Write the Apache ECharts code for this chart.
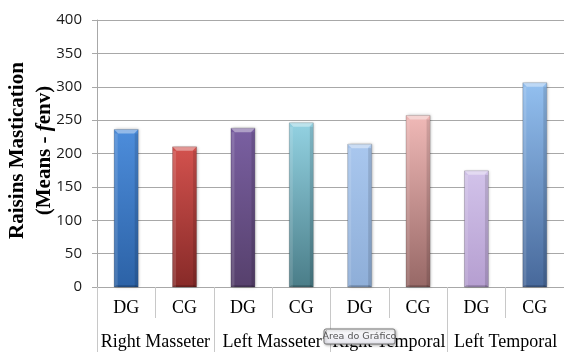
<!DOCTYPE html>
<html>
<head>
<meta charset="utf-8">
<script src="https://cdn.jsdelivr.net/npm/echarts@6/dist/echarts.min.js"></script>
<style>
  html, body { margin: 0; padding: 0; background: #ffffff; }
  #chart { width: 564px; height: 352px; }
</style>
</head>
<body>
<div id="chart"></div>
<script>
// Mean raisin-mastication activity per muscle, DG vs CG
const groupLabels = ['DG', 'CG', 'DG', 'CG', 'DG', 'CG', 'DG', 'CG'];
const muscles = ['Right Masseter', 'Left Masseter', 'Right Temporal', 'Left Temporal'];
const meanValues = [236, 210, 238, 246, 214, 257, 174, 306];
const yTicks = { min: 0, max: 400, step: 50 };

// bar shading: light top colour, darker bottom colour
const barTop = ['#4d8ddb', '#d3524e', '#7a60a2', '#93d2e2', '#a9c7ee', '#f0b9b7', '#d2c3ea', '#93c0f0'];
const barBottom = ['#2c62a6', '#872a28', '#56406c', '#4a7d88', '#8eaed8', '#976866', '#b59ed0', '#47689a'];

const chart = echarts.init(document.getElementById('chart'), null, { renderer: 'canvas' });

const gridColor = '#a8a8a8';

function renderBar(params, api) {
  const i = api.value(0);
  const top = api.coord([i, api.value(1)]);
  const base = api.coord([i, 0]);
  const w = 24;
  const x0 = top[0] - w / 2;
  const y0 = top[1];
  const h = base[1] - y0;
  const b = 4;
  return {
    type: 'group',
    children: [
      {
        type: 'rect',
        shape: { x: x0, y: y0, width: w, height: h },
        style: {
          fill: new echarts.graphic.LinearGradient(0, 0, 0, 1, [
            { offset: 0, color: barTop[i] },
            { offset: 1, color: barBottom[i] }
          ]),
          stroke: 'rgba(0,0,0,0.18)',
          lineWidth: 1,
          shadowBlur: 3,
          shadowColor: 'rgba(0,0,0,0.25)',
          shadowOffsetX: 1
        }
      },
      {
        type: 'rect',
        shape: { x: x0 + 0.5, y: y0 + b, width: 3, height: h - b },
        style: { fill: 'rgba(255,255,255,0.14)' }
      },
      {
        type: 'rect',
        shape: { x: x0 + w - 3.5, y: y0 + b, width: 3, height: h - b },
        style: { fill: 'rgba(0,0,0,0.12)' }
      },
      {
        type: 'polygon',
        shape: { points: [[x0, y0], [x0 + w, y0], [x0 + w - b, y0 + b], [x0 + b, y0 + b]] },
        style: { fill: 'rgba(255,255,255,0.4)' }
      },
      {
        type: 'polygon',
        shape: { points: [[x0, base[1]], [x0 + w, base[1]], [x0 + w - 2, base[1] - 2], [x0 + 2, base[1] - 2]] },
        style: { fill: 'rgba(0,0,0,0.15)' }
      }
    ]
  };
}

chart.setOption({
  animation: false,
  grid: { left: 97, right: 0, top: 20, bottom: 65, containLabel: false, outerBoundsMode: 'none' },
  xAxis: [
    {
      type: 'category',
      data: groupLabels,
      position: 'bottom',
      axisLine: { show: true, lineStyle: { color: gridColor, width: 1 } },
      axisTick: { show: true, length: 31, interval: 0, lineStyle: { color: '#c8c8c8' } },
      axisLabel: {
        interval: 0,
        margin: 12,
        color: '#000000',
        fontFamily: '"Liberation Serif", "Times New Roman", serif',
        fontSize: 18
      },
      splitLine: { show: false }
    },
    {
      type: 'category',
      data: muscles,
      position: 'bottom',
      offset: 0,
      axisLine: { show: false },
      axisTick: { show: true, length: 65, interval: 0, lineStyle: { color: '#c8c8c8' } },
      axisLabel: {
        interval: 0,
        margin: 46,
        color: '#000000',
        fontFamily: '"Liberation Serif", "Times New Roman", serif',
        fontSize: 18
      },
      splitLine: { show: false }
    }
  ],
  yAxis: {
    type: 'value',
    min: yTicks.min,
    max: yTicks.max,
    interval: yTicks.step,
    axisLine: { show: true, lineStyle: { color: gridColor } },
    axisTick: { show: true, length: 5, inside: false, lineStyle: { color: gridColor } },
    axisLabel: {
      margin: 15,
      color: '#1a1a1a',
      fontFamily: '"Open Sans", sans-serif',
      fontSize: 15
    },
    splitLine: { show: true, lineStyle: { color: gridColor, width: 1 } },
    name: '{b|Raisins Mastication}\n{b|(Means - }{i|f}{b|env)}',
    nameLocation: 'middle',
    nameRotate: 90,
    nameGap: 39,
    nameMoveOverlap: false,
    nameTextStyle: {
      lineHeight: 27,
      padding: [0, 0, 0, 6],
      rich: {
        b: {
          fontFamily: '"Liberation Serif", "Times New Roman", serif',
          fontWeight: 'bold',
          fontSize: 21,
          color: '#000000',
          lineHeight: 27
        },
        i: {
          fontFamily: '"Liberation Serif", "Times New Roman", serif',
          fontWeight: 'bold',
          fontStyle: 'italic',
          fontSize: 21,
          color: '#000000',
          lineHeight: 27
        }
      }
    }
  },
  series: [
    {
      type: 'custom',
      xAxisIndex: 0,
      renderItem: renderBar,
      data: meanValues.map((v, i) => [i, v]),
      z: 3
    }
  ],
  graphic: [
    {
      type: 'rect',
      zlevel: 1,
      z: 100,
      shape: { x: 324, y: 329, width: 71, height: 15, r: 2 },
      style: {
        fill: new echarts.graphic.LinearGradient(0, 0, 0, 1, [
          { offset: 0, color: '#ffffff' },
          { offset: 1, color: '#e6e6ee' }
        ]),
        stroke: '#767676',
        lineWidth: 1,
        shadowBlur: 3,
        shadowOffsetX: 1,
        shadowOffsetY: 1,
        shadowColor: 'rgba(0,0,0,0.3)'
      }
    },
    {
      type: 'text',
      zlevel: 1,
      z: 101,
      x: 359.5,
      y: 336.5,
      style: {
        text: 'Área do Gráfico',
        fill: '#555555',
        font: '9.5px "DejaVu Sans", sans-serif',
        align: 'center',
        verticalAlign: 'middle'
      }
    }
  ]
});
</script>
</body>
</html>
